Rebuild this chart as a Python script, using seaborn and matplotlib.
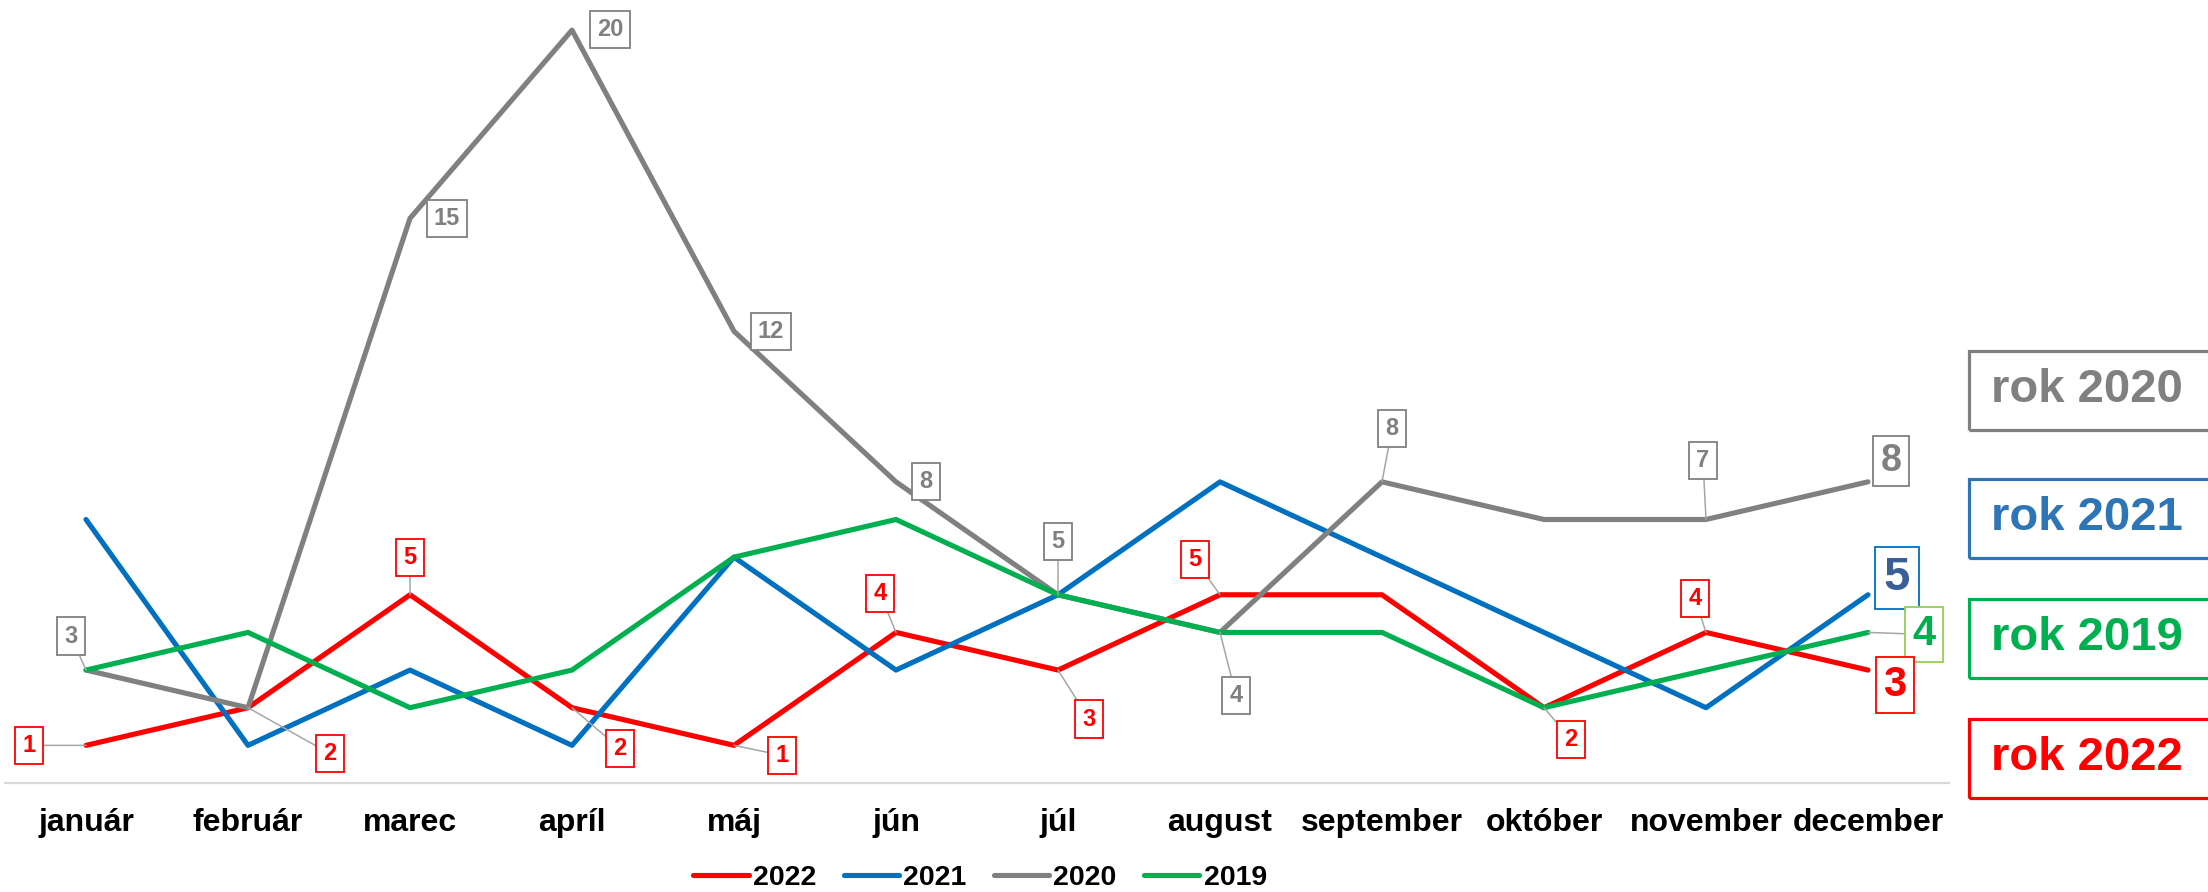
import matplotlib
matplotlib.use("Agg")
import numpy as np
import pandas as pd
import matplotlib.pyplot as plt
from matplotlib.patches import Rectangle
import seaborn as sns

months = ["január", "február", "marec", "apríl", "máj", "jún", "júl",
          "august", "september", "október", "november", "december"]
y2022 = [1, 2, 5, 2, 1, 4, 3, 5, 5, 2, 4, 3]
y2021 = [7, 1, 3, 1, 6, 3, 5, 8, 6, 4, 2, 5]
y2020 = [3, 2, 15, 20, 12, 8, 5, 4, 8, 7, 7, 8]
y2019 = [3, 4, 2, 3, 6, 7, 5, 4, 4, 2, 3, 4]
years = ["2022", "2021", "2020", "2019"]
colors = ["#FF0000", "#0070C0", "#808080", "#00B050"]

# which points carry a data label: (month index, dx px, dy px, leader line)
labels_2022 = [(0, -57, 0, True), (1, 82, -46, True), (2, 0, 37, True),
               (3, 48, -41, True), (4, 48, -10, True), (5, -16, 39, True),
               (6, 31, -49, True), (7, -25, 35, True), (9, 27, -32, True),
               (10, -11, 34, True)]
labels_2020 = [(0, -15, 34, True), (2, 37, 0, False), (3, 38, 1, False),
               (4, 37, 0, False), (5, 30, 0, False), (6, 0, 53, True),
               (7, 16, -63, True), (8, 10, 53, True), (10, -3, 59, True)]
# big end-of-line labels: (series, dx, dy, fontsize, text colour, box colour)
end_labels = [("2020", 23, 21, 27, "#808080", "#808080"),
              ("2021", 29, 17, 34, "#3A5F96", "#0070C0"),
              ("2019", 56, -2, 30, "#00B050", "#92D050"),
              ("2022", 27, -15, 30, "#FF0000", "#FF0000")]
side_boxes = ["rok 2020", "rok 2021", "rok 2019", "rok 2022"]
side_colors = ["#808080", "#2E75B6", "#00B050", "#FF0000"]

series = dict(zip(years, [y2022, y2021, y2020, y2019]))
df = pd.DataFrame({
    "pos": np.tile(np.arange(len(months)), len(years)),
    "year": np.repeat(years, len(months)),
    "count": y2022 + y2021 + y2020 + y2019,
})

sns.set_style("white")
plt.rcParams["font.family"] = ["Liberation Sans", "DejaVu Sans"]
plt.rcParams["font.weight"] = "bold"
plt.rcParams["text.color"] = "black"
plt.rcParams["xtick.color"] = "black"
plt.rcParams["lines.solid_capstyle"] = "round"

W, H = 2208, 892
fig = plt.figure(figsize=(W / 100, H / 100), dpi=100)
ax = fig.add_axes([5 / W, (H - 783) / H, 1944 / W, 783 / H])

sns.lineplot(data=df, x="pos", y="count", hue="year", hue_order=years,
             palette=colors, linewidth=3.7, sort=False, ax=ax)

ax.set_xlim(-0.5, 11.5)
ax.set_ylim(0, 20.8)
ax.set_xticks(range(len(months)), months, fontsize=23, fontweight="bold")
ax.tick_params(axis="x", length=0, pad=18, labelcolor="black")
ax.set_yticks([])
ax.set_xlabel("")
ax.set_ylabel("")
for s in ["left", "right", "top"]:
    ax.spines[s].set_visible(False)
ax.spines["bottom"].set_color("#D9D9D9")
ax.spines["bottom"].set_linewidth(1.6)


def put_label(i, v, dx, dy, color, txtcolor, size, leader, pad=0.3):
    arrow = None
    if leader:
        arrow = dict(arrowstyle="-", color="#A6A6A6", lw=1.1,
                     shrinkA=0, shrinkB=0)
    ax.annotate(str(v), xy=(i, v), xytext=(dx, dy), textcoords="offset pixels",
                ha="center", va="center", fontsize=size, fontweight="bold",
                color=txtcolor, zorder=6, arrowprops=arrow,
                bbox=dict(boxstyle=f"square,pad={pad}", fc="white", ec=color, lw=1.3))


for i, dx, dy, lead in labels_2022:
    put_label(i, y2022[i], dx, dy, "#FF0000", "#FF0000", 17, lead)
for i, dx, dy, lead in labels_2020:
    put_label(i, y2020[i], dx, dy, "#808080", "#808080", 17, lead)
for yr, dx, dy, size, tc, bc in end_labels:
    put_label(11, series[yr][11], dx, dy, bc, tc, size, yr == "2019", pad=0.19)

handles, labs = ax.get_legend_handles_labels()
ax.legend(handles, labs, loc="center", bbox_to_anchor=(980 / W, 14 / H),
          bbox_transform=fig.transFigure, ncol=4, frameon=False,
          prop={"size": 20.5, "weight": "bold"}, handlelength=1.95,
          handletextpad=0.15, columnspacing=0.95, borderpad=0)

# series name boxes on the right
box_tops = [351, 479, 599, 719]
box_bottoms = [430, 558, 678, 798]
for name, col, t, b in zip(side_boxes, side_colors, box_tops, box_bottoms):
    fig.patches.append(Rectangle((1969 / W, (H - b) / H), 300 / W, (b - t) / H,
                                 transform=fig.transFigure, fill=False,
                                 ec=col, lw=2.3))
    fig.text(1991 / W, (H - (t + b) / 2) / H, name, color=col, fontsize=34,
             fontweight="bold", ha="left", va="center")

fig.savefig("out.png", dpi=100)
